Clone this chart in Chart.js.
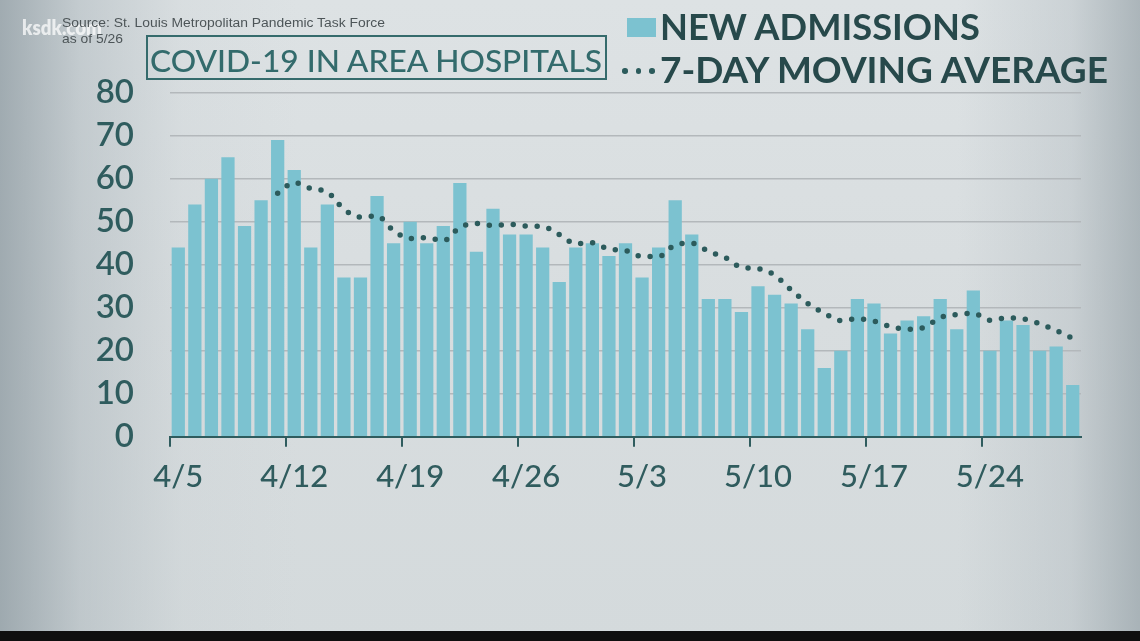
<!DOCTYPE html>
<html><head><meta charset="utf-8">
<script src="https://cdn.jsdelivr.net/npm/chart.js@4.4.0/dist/chart.umd.min.js"></script>
<style>
html,body{margin:0;padding:0;width:1140px;height:641px;overflow:hidden;}
#stage{position:relative;width:1140px;height:641px;
 background:
  linear-gradient(to right, rgba(140,153,160,0.75) 0%, rgba(165,176,182,0.45) 7%, rgba(190,198,202,0.15) 16%, rgba(0,0,0,0) 26%, rgba(0,0,0,0) 84%, rgba(170,180,186,0.35) 94%, rgba(150,162,168,0.7) 100%),
  linear-gradient(to bottom, #dde2e4 0%, #d8dddf 50%, #d4dadc 100%);}
canvas#c{position:absolute;left:0;top:0;}
.t{position:absolute;white-space:nowrap;transform-origin:0 0;line-height:1;margin:0;padding:0;}
#ksdk{font:800 21px Lato, sans-serif;color:rgba(255,255,255,0.72);}
#src1,#src2{font:400 12.5px "Liberation Sans", Arial, sans-serif;color:#4d5558;}
#title{font:500 31.7px Lato, sans-serif;color:#336b6c;}
#titlebox{position:absolute;left:146px;top:35px;width:461px;height:45px;box-sizing:border-box;border:2.5px solid #356b6c;}
#lg1,#lg2{font:700 37px Lato, sans-serif;color:#27494b;}
#sw{position:absolute;left:627px;top:18px;width:29px;height:19px;background:#7cc2d0;}
.dot{position:absolute;width:5.5px;height:5.5px;border-radius:50%;background:#2c5b5c;top:68px;}
#bottom{position:absolute;left:0;top:631px;width:1140px;height:10px;background:#0f0f0f;}
</style></head><body>
<div id="stage">
<canvas id="c" width="1140" height="641"></canvas>
<div id="ksdk" class="t">ksdk.com</div>
<div id="src1" class="t">Source: St. Louis Metropolitan Pandemic Task Force</div>
<div id="src2" class="t">as of 5/26</div>
<div id="titlebox"></div>
<div id="title" class="t">COVID-19 IN AREA HOSPITALS</div>
<div id="sw"></div>
<div id="lg1" class="t">NEW ADMISSIONS</div>
<div class="dot" style="left:622px"></div>
<div class="dot" style="left:635.5px"></div>
<div class="dot" style="left:649px"></div>
<div id="lg2" class="t">7-DAY MOVING AVERAGE</div>
<div id="bottom"></div>
</div>
<script>
const dates = ['4/5','4/6','4/7','4/8','4/9','4/10','4/11','4/12','4/13','4/14','4/15','4/16','4/17','4/18','4/19','4/20','4/21','4/22','4/23','4/24','4/25','4/26','4/27','4/28','4/29','4/30',
 '5/1','5/2','5/3','5/4','5/5','5/6','5/7','5/8','5/9','5/10','5/11','5/12','5/13','5/14','5/15','5/16','5/17','5/18','5/19','5/20','5/21','5/22','5/23','5/24','5/25','5/26','5/27','5/28','5/29'];
const newAdmissions = [44,54,60,65,49,55,69,62,44,54,37,37,56,45,50,45,49,59,43,53,47,47,44,36,44,45,42,45,37,44,55,47,32,32,29,35,33,31,25,16,20,32,31,24,27,28,32,25,34,20,27,26,20,21,12];
const movingAverage = [null,null,null,null,null,null,
 56.6,59.1,57.7,56.9,52.9,51.1,51.3,47.9,46.1,46.3,45.6,48.7,49.6,49.1,49.4,49.0,48.9,47.0,44.9,45.1,
 43.6,43.3,41.9,41.9,44.6,45.0,43.1,41.7,39.4,39.1,37.6,34.1,31.0,28.7,27.0,27.4,26.9,25.6,25.0,25.4,
 27.7,28.4,28.7,27.1,27.6,27.4,26.3,24.7,22.9];
const yTicks = [0,10,20,30,40,50,60,70,80];
const labelEvery = 7;

function place(id, x, baseline, width, scaleOverride){
  const el = document.getElementById(id);
  const m = document.createElement('span');
  m.style.cssText = 'display:inline-block;width:0;height:0;vertical-align:baseline;';
  el.appendChild(m);
  el.style.left = x + 'px'; el.style.top = '0px';
  const b = m.offsetTop;
  el.style.top = (baseline - b) + 'px';
  let s = scaleOverride || 1;
  if (width) { const w = el.getBoundingClientRect().width; s = width / w; }
  el.style.transform = 'scaleX(' + s + ')';
  return s;
}

function build(){
  place('ksdk', 22, 35, 80);
  const s = place('src1', 61.5, 26.7, 323);
  place('src2', 61.5, 43, null, s);
  place('title', 150, 71.7, 452);
  place('lg1', 660, 40, 320);
  place('lg2', 660, 83.3, 448);

  const teal = '#2f5c5e';
  new Chart(document.getElementById('c'), {
    data: {
      labels: dates,
      datasets: [
        { type:'line', label:'7-DAY MOVING AVERAGE', data: movingAverage, order:0,
          borderColor:'#2c5b5c', borderWidth:5.5, borderDash:[0,12], borderCapStyle:'round',
          pointRadius:0, fill:false, cubicInterpolationMode:'monotone', spanGaps:false },
        { type:'bar', label:'NEW ADMISSIONS', data: newAdmissions, order:1,
          backgroundColor:'#7cc2d0', borderWidth:0, barPercentage:0.8, categoryPercentage:1.0 }
      ]
    },
    options: {
      responsive:false, animation:false, devicePixelRatio:1,
      layout:{ padding:{ left:0, right:59, top:92.7, bottom:0 } },
      plugins:{ legend:{display:false}, tooltip:{enabled:false}, title:{display:false} },
      scales:{
        x:{
          type:'category', offset:true,
          grid:{ offset:true, display:true, drawOnChartArea:false, drawTicks:true, tickLength:10, lineWidth:2,
                 color: ctx => (ctx.index % labelEvery === 0 ? teal : 'rgba(0,0,0,0)') },
          border:{ display:true, color:teal, width:2 },
          ticks:{ autoSkip:false, maxRotation:0, minRotation:0, padding:12, color:'#305c5e',
                  font:{ family:'Lato', size:31, weight:'500' },
                  callback:(v,i) => (i % labelEvery === 0 ? dates[i] : '') },
          afterFit: sc => { sc.height = 641 - 436.7; }
        },
        y:{
          min:0, max:80,
          afterBuildTicks: sc => { sc.ticks = yTicks.map(v => ({value:v})); },
          grid:{ color:'#b3b8bb', lineWidth:1.5, drawTicks:false },
          border:{ display:false },
          ticks:{ padding:36, color:teal, font:{ family:'Lato', size:33, weight:'600' } },
          afterFit: sc => { sc.width = 170; }
        }
      }
    }
  });
}
const fl = [document.fonts.load('500 31px Lato'), document.fonts.load('600 33px Lato'), document.fonts.load('700 37px Lato'), document.fonts.load('800 21px Lato'), document.fonts.load('12px "Liberation Sans"')];
Promise.all(fl).then(build, build);
</script>
</body></html>
